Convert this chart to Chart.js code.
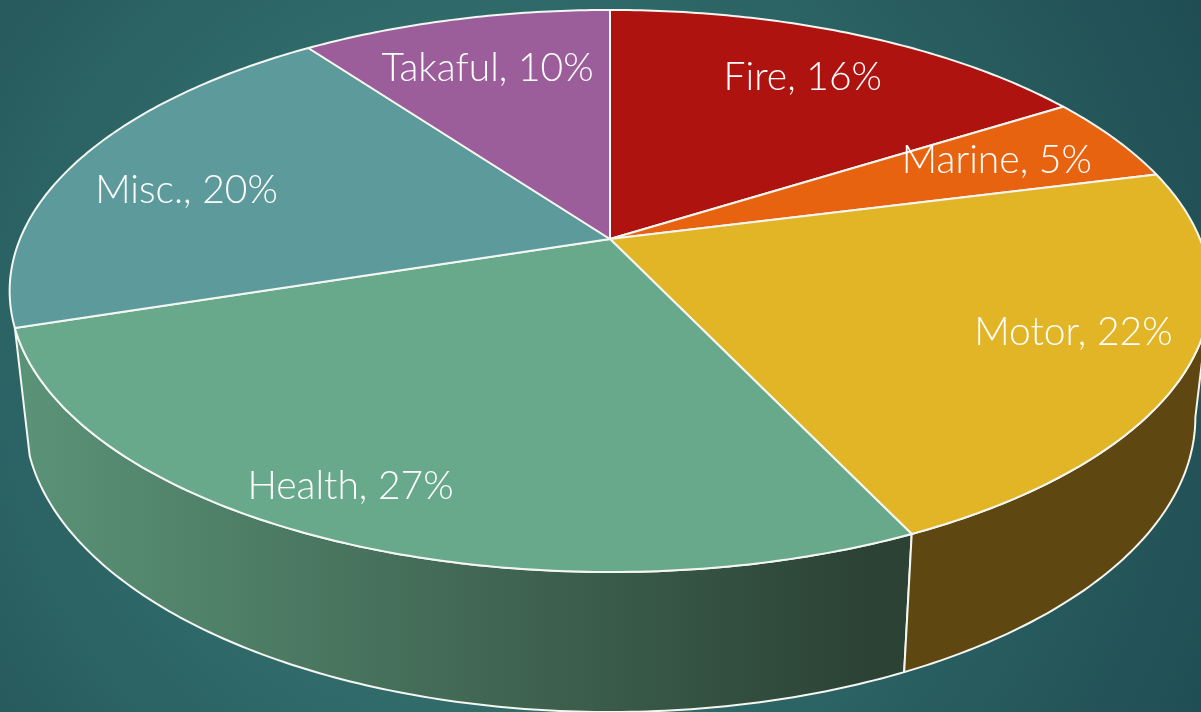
<!DOCTYPE html>
<html>
<head>
<meta charset="utf-8">
<script src="https://cdn.jsdelivr.net/npm/chart.js@4"></script>
<style>
  html, body { margin: 0; height: 100%; overflow: hidden; }
  body { background: radial-gradient(circle 900px at 480px 370px, #3b7a75 0%, #2e6767 45%, #1c474e 100%); }
  canvas { display: block; }
</style>
</head>
<body>
<canvas id="g-premium" width="1201" height="712"></canvas>
<script>
var categories = ['Fire', 'Marine', 'Motor', 'Health', 'Misc.', 'Takaful'];
var shares = [16, 5, 22, 27, 20, 10];
var sliceColors = ['#ae1310', '#e86310', '#e2b527', '#68a98b', '#5d9a9b', '#9c5e9a'];

// how far out along its slice each label sits, 1 = on the rim
var labelReach = [0.762, 0.757, 0.806, 0.865, 0.765, 0.748];
// degrees each label is turned away from the middle of its slice
var labelTurn = [0, -0.4, -1.6, 2.4, -4, -0.3];

// perspective of the disc
var view = { cx: 610, cy: 239, rx: 590, ry: 271.4, tilt: 0.185 };

function topPoint(angle, r) {
    var x = r * Math.cos(angle);
    var y = r * Math.sin(angle);
    var w = 1 - view.tilt * y;
    return [view.cx + view.rx * x / w, view.cy + view.ry * y / w];
}

function lowPoint(angle) {
    var p = topPoint(angle, 1);
    return [view.cx + 0.975 * (p[0] - view.cx), 1.049 * p[1] + 112];
}

function traceRim(ctx, from, to, pointAt) {
    var steps = Math.max(2, Math.ceil(Math.abs(to - from) * 80));
    for (var i = 0; i <= steps; i++) {
        var p = pointAt(from + (to - from) * i / steps);
        ctx.lineTo(p[0], p[1]);
    }
}

function drawWall(ctx, from, to, fill) {
    ctx.beginPath();
    traceRim(ctx, from, to, function (a) { return topPoint(a, 1); });
    traceRim(ctx, to, from, lowPoint);
    ctx.closePath();
    ctx.fillStyle = fill;
    ctx.fill();
    ctx.stroke();
}

var diskPlugin = {
    id: 'disk',
    beforeDatasetsDraw: function (chart) {
        var ctx = chart.ctx;
        var arcs = chart.getDatasetMeta(0).data;
        var front = Math.asin(view.tilt);

        ctx.save();
        ctx.strokeStyle = '#f4f6f2';
        ctx.lineWidth = 2;
        ctx.lineJoin = 'round';

        // only Motor and Health show a side wall
        var shade = ctx.createLinearGradient(30, 0, 870, 0);
        shade.addColorStop(0, '#5a9277');
        shade.addColorStop(1, '#2b4234');
        drawWall(ctx, arcs[3].startAngle, arcs[3].endAngle, shade);
        drawWall(ctx, Math.max(arcs[2].startAngle, front), arcs[2].endAngle, '#5e4711');

        arcs.forEach(function (arc, i) {
            ctx.beginPath();
            ctx.moveTo(view.cx, view.cy);
            traceRim(ctx, arc.startAngle, arc.endAngle, function (a) { return topPoint(a, 1); });
            ctx.closePath();
            ctx.fillStyle = sliceColors[i];
            ctx.fill();
            ctx.stroke();
        });

        ctx.fillStyle = '#ffffff';
        ctx.font = '300 39px Lato';
        ctx.textAlign = 'center';
        ctx.textBaseline = 'middle';
        arcs.forEach(function (arc, i) {
            var mid = (arc.startAngle + arc.endAngle) / 2 + labelTurn[i] * Math.PI / 180;
            var p = topPoint(mid, labelReach[i]);
            ctx.fillText(categories[i] + ', ' + shares[i] + '%', p[0], p[1]);
        });
        ctx.restore();
        return false;
    }
};

var gPremium = new Chart(document.getElementById('g-premium'), {
    type: 'pie',
    data: {
        labels: categories,
        datasets: [
            {
                label: 'Share',
                data: shares,
                backgroundColor: sliceColors,
                borderColor: '#f4f6f2',
            }
        ]
    },
    options: {
        responsive: false,
        animation: false,
        plugins: {
            legend: { display: false },
            tooltip: { enabled: false },
        }
    },
    plugins: [diskPlugin],
});
</script>
</body>
</html>
